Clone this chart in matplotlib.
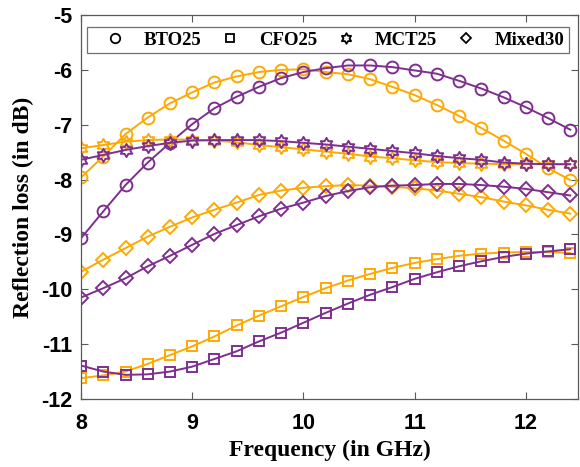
import numpy as np
import matplotlib
matplotlib.use("Agg")
from matplotlib import pyplot as plt
from matplotlib.lines import Line2D
from matplotlib.path import Path

freq = [8.0, 8.2, 8.4, 8.6, 8.8, 9.0, 9.2, 9.4, 9.6, 9.8, 10.0, 10.2,
        10.4, 10.6, 10.8, 11.0, 11.2, 11.4, 11.6, 11.8, 12.0, 12.2, 12.4]

# purple (first set) and orange (second set) curves for each sample
bto_p = [-9.07, -8.58, -8.10, -7.69, -7.33, -6.99, -6.70, -6.49, -6.31, -6.15, -6.04, -5.97,
         -5.92, -5.92, -5.95, -6.01, -6.07, -6.20, -6.34, -6.50, -6.68, -6.88, -7.09]
bto_o = [-7.96, -7.58, -7.17, -6.87, -6.61, -6.41, -6.23, -6.12, -6.04, -6.00, -5.99, -6.04,
         -6.08, -6.17, -6.31, -6.46, -6.64, -6.84, -7.06, -7.29, -7.53, -7.79, -8.01]
cfo_p = [-11.39, -11.50, -11.56, -11.55, -11.50, -11.41, -11.27, -11.13, -10.95, -10.79, -10.61, -10.43,
         -10.26, -10.10, -9.96, -9.81, -9.69, -9.58, -9.49, -9.41, -9.35, -9.31, -9.27]
cfo_o = [-11.62, -11.57, -11.50, -11.36, -11.20, -11.04, -10.86, -10.66, -10.48, -10.31, -10.14, -9.98,
         -9.84, -9.72, -9.61, -9.52, -9.45, -9.39, -9.35, -9.33, -9.32, -9.32, -9.34]
mct_p = [-7.64, -7.55, -7.46, -7.39, -7.33, -7.29, -7.28, -7.28, -7.28, -7.30, -7.33, -7.36,
         -7.40, -7.44, -7.48, -7.52, -7.57, -7.61, -7.64, -7.69, -7.71, -7.72, -7.72]
mct_o = [-7.43, -7.37, -7.31, -7.28, -7.27, -7.27, -7.29, -7.32, -7.37, -7.41, -7.45, -7.49,
         -7.53, -7.58, -7.61, -7.65, -7.68, -7.70, -7.71, -7.72, -7.72, -7.72, -7.72]
mix_p = [-10.15, -9.98, -9.80, -9.58, -9.39, -9.19, -8.99, -8.83, -8.67, -8.53, -8.42, -8.30,
         -8.21, -8.14, -8.11, -8.10, -8.08, -8.08, -8.10, -8.13, -8.17, -8.23, -8.29]
mix_o = [-9.68, -9.46, -9.25, -9.04, -8.86, -8.69, -8.55, -8.42, -8.28, -8.20, -8.15, -8.12,
         -8.10, -8.11, -8.13, -8.16, -8.20, -8.26, -8.32, -8.40, -8.47, -8.55, -8.62]

labels = ["BTO25", "CFO25", "MCT25", "Mixed30"]

purple = "#7E2F8E"
orange = "#FCA904"

# hexagram marker (star of David outline)
ang = np.pi / 2 + np.arange(12) * np.pi / 6
rad = np.where(np.arange(12) % 2 == 0, 1.0, 1 / np.sqrt(3))
verts = np.column_stack([rad * np.cos(ang), rad * np.sin(ang)])
verts = np.vstack([verts, verts[:1]])
hexagram = Path(verts, closed=True)

markers = ["o", "s", hexagram, "D"]
msizes = [8.5, 6.5, 9.5, 7]

fig = plt.figure(figsize=(5.8, 4.67), dpi=100)
ax = fig.add_axes([0.1397, 0.1456, 0.8569, 0.8223])

series = [(bto_p, bto_o), (cfo_p, cfo_o), (mct_p, mct_o), (mix_p, mix_o)]
for (yp, yo), m, ms in zip(series, markers, msizes):
    ax.plot(freq, yo, color=orange, marker=m, markersize=ms, markerfacecolor="none",
            markeredgewidth=1.4, linewidth=1.4)
    ax.plot(freq, yp, color=purple, marker=m, markersize=ms, markerfacecolor="none",
            markeredgewidth=1.4, linewidth=1.4)

ax.set_xlim(8, 12.47)
ax.set_ylim(-12, -5)
ax.set_xticks([8, 9, 10, 11, 12])
ax.set_yticks(range(-12, -4))

tickfont = {"family": "Liberation Sans", "weight": "bold", "size": 15.5}
ax.set_xticklabels([str(t) for t in [8, 9, 10, 11, 12]], fontdict=tickfont)
ax.set_yticklabels([str(t) for t in range(-12, -4)], fontdict=tickfont)
ax.tick_params(direction="in", top=True, right=True, length=5, width=0.8,
               color="0.35")
ax.tick_params(axis="x", pad=10)
ax.tick_params(axis="y", pad=6)
for s in ax.spines.values():
    s.set_color("0.35")
    s.set_linewidth(0.9)

labfont = {"family": "Liberation Serif", "weight": "bold", "size": 17}
ax.set_xlabel("Frequency (in GHz)", fontdict=labfont, labelpad=4)
ax.set_ylabel("Reflection loss (in dB)", fontdict=labfont, labelpad=5)

handles = [Line2D([], [], color="black", marker=m, markersize=ms * 0.8, linestyle="none",
                  markerfacecolor="none", markeredgewidth=1.3)
           for m, ms in zip(markers, msizes)]
leg = ax.legend(handles, labels, loc="center", ncol=4, mode="expand",
                bbox_to_anchor=(0.012, 0.901, 0.970, 0.068),
                prop={"family": "Liberation Serif", "weight": "bold", "size": 13.5},
                frameon=True, fancybox=False, edgecolor="0.3", borderaxespad=0,
                handletextpad=0.3, columnspacing=1.0, handlelength=2.5,
                borderpad=0.25)
leg.get_frame().set_linewidth(0.9)

fig.savefig("out.png", dpi=100)
